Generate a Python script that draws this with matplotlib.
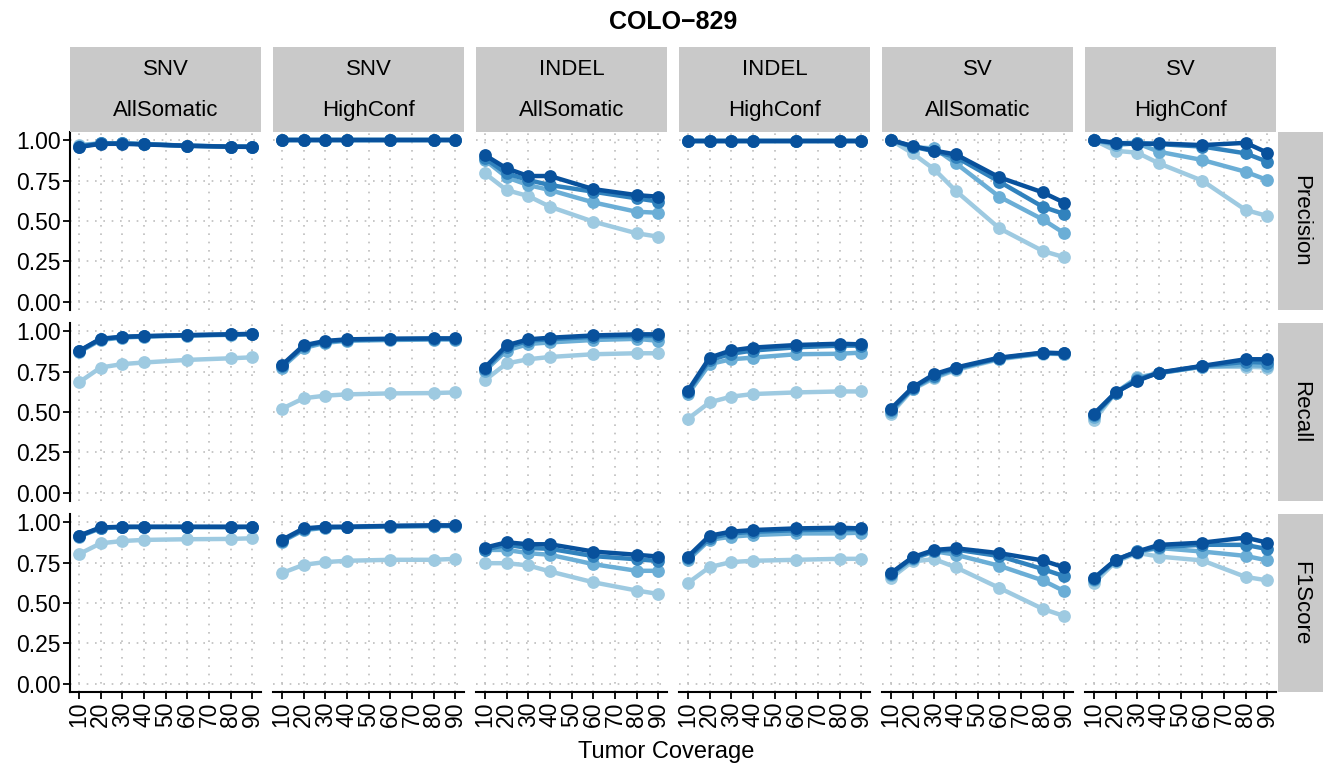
import matplotlib
matplotlib.use("Agg")
import matplotlib.pyplot as plt

plt.rcParams['font.family'] = ['Liberation Sans', 'DejaVu Sans']

coverage = [10, 20, 30, 40, 60, 80, 90]
x_ticks = [10, 20, 30, 40, 50, 60, 70, 80, 90]
y_ticks = [0.0, 0.25, 0.5, 0.75, 1.0]
metrics = ["Precision", "Recall", "F1Score"]
variant_types = ["SNV", "SNV", "INDEL", "INDEL", "SV", "SV"]
call_sets = ["AllSomatic", "HighConf", "AllSomatic", "HighConf", "AllSomatic", "HighConf"]
# light -> dark, drawn in this order so the darkest ends up on top
shades = ["#9ECAE1", "#6BAED6", "#3182BD", "#08519C"]

# each block: 4 series (light -> dark), one value per coverage
precision_snv_all = [[0.97, 0.98, 0.98, 0.975, 0.965, 0.96, 0.957],
                     [0.965, 0.98, 0.98, 0.975, 0.965, 0.96, 0.96],
                     [0.96, 0.98, 0.98, 0.975, 0.965, 0.96, 0.96],
                     [0.957, 0.977, 0.977, 0.973, 0.965, 0.959, 0.958]]
precision_snv_hc = [[0.998] * 7, [0.998] * 7, [0.998] * 7, [0.998] * 7]
precision_indel_all = [[0.794, 0.691, 0.654, 0.588, 0.496, 0.424, 0.403],
                       [0.877, 0.77, 0.722, 0.691, 0.615, 0.557, 0.551],
                       [0.887, 0.794, 0.753, 0.722, 0.681, 0.64, 0.62],
                       [0.907, 0.825, 0.778, 0.778, 0.697, 0.66, 0.65]]
precision_indel_hc = [[0.995] * 7, [0.995] * 7, [0.995] * 7, [0.995] * 7]
precision_sv_all = [[1.0, 0.918, 0.819, 0.685, 0.455, 0.315, 0.276],
                    [1.0, 0.955, 0.949, 0.856, 0.65, 0.51, 0.424],
                    [1.0, 0.96, 0.93, 0.895, 0.743, 0.588, 0.543],
                    [1.0, 0.963, 0.935, 0.911, 0.77, 0.677, 0.613]]
precision_sv_hc = [[1.0, 0.934, 0.922, 0.856, 0.749, 0.568, 0.531],
                   [1.0, 0.97, 0.98, 0.928, 0.877, 0.804, 0.753],
                   [1.0, 0.98, 0.983, 0.975, 0.96, 0.918, 0.866],
                   [1.0, 0.983, 0.975, 0.979, 0.969, 0.983, 0.922]]

recall_snv_all = [[0.683, 0.775, 0.796, 0.806, 0.822, 0.832, 0.838],
                  [0.87, 0.945, 0.96, 0.966, 0.972, 0.977, 0.98],
                  [0.875, 0.95, 0.963, 0.968, 0.974, 0.979, 0.982],
                  [0.877, 0.953, 0.965, 0.969, 0.975, 0.98, 0.983]]
recall_snv_hc = [[0.52, 0.585, 0.601, 0.609, 0.615, 0.617, 0.621],
                 [0.775, 0.895, 0.928, 0.94, 0.945, 0.948, 0.948],
                 [0.785, 0.905, 0.935, 0.945, 0.95, 0.952, 0.952],
                 [0.79, 0.912, 0.939, 0.949, 0.953, 0.955, 0.955]]
recall_indel_all = [[0.697, 0.8, 0.826, 0.84, 0.857, 0.863, 0.863],
                    [0.755, 0.88, 0.92, 0.93, 0.945, 0.952, 0.94],
                    [0.765, 0.9, 0.94, 0.95, 0.965, 0.97, 0.97],
                    [0.775, 0.912, 0.949, 0.959, 0.973, 0.98, 0.98]]
recall_indel_hc = [[0.458, 0.56, 0.595, 0.611, 0.621, 0.627, 0.627],
                   [0.61, 0.796, 0.826, 0.836, 0.857, 0.86, 0.867],
                   [0.625, 0.82, 0.86, 0.88, 0.9, 0.91, 0.91],
                   [0.632, 0.836, 0.881, 0.898, 0.914, 0.922, 0.918]]
recall_sv_all = [[0.49, 0.64, 0.71, 0.76, 0.826, 0.86, 0.858],
                 [0.5, 0.645, 0.715, 0.765, 0.83, 0.862, 0.86],
                 [0.51, 0.648, 0.725, 0.77, 0.832, 0.865, 0.862],
                 [0.52, 0.652, 0.734, 0.775, 0.836, 0.867, 0.863]]
recall_sv_hc = [[0.448, 0.62, 0.714, 0.74, 0.78, 0.78, 0.775],
                [0.47, 0.62, 0.708, 0.74, 0.78, 0.79, 0.785],
                [0.48, 0.62, 0.7, 0.742, 0.783, 0.81, 0.805],
                [0.489, 0.621, 0.693, 0.744, 0.785, 0.826, 0.826]]

f1_snv_all = [[0.802, 0.869, 0.883, 0.89, 0.894, 0.896, 0.9],
              [0.91, 0.962, 0.968, 0.969, 0.969, 0.968, 0.969],
              [0.913, 0.965, 0.97, 0.97, 0.97, 0.97, 0.97],
              [0.916, 0.967, 0.971, 0.971, 0.971, 0.971, 0.971]]
f1_snv_hc = [[0.685, 0.736, 0.753, 0.761, 0.767, 0.767, 0.773],
             [0.88, 0.95, 0.965, 0.968, 0.972, 0.975, 0.975],
             [0.885, 0.955, 0.968, 0.97, 0.975, 0.977, 0.977],
             [0.89, 0.961, 0.971, 0.971, 0.977, 0.98, 0.98]]
f1_indel_all = [[0.746, 0.746, 0.732, 0.695, 0.628, 0.577, 0.556],
                [0.828, 0.828, 0.808, 0.798, 0.74, 0.699, 0.699],
                [0.83, 0.86, 0.84, 0.835, 0.79, 0.77, 0.76],
                [0.842, 0.875, 0.863, 0.863, 0.818, 0.798, 0.787]]
f1_indel_hc = [[0.624, 0.722, 0.753, 0.761, 0.767, 0.773, 0.773],
               [0.765, 0.89, 0.91, 0.92, 0.93, 0.93, 0.935],
               [0.78, 0.9, 0.93, 0.94, 0.95, 0.955, 0.955],
               [0.787, 0.916, 0.941, 0.951, 0.961, 0.965, 0.961]]
f1_sv_all = [[0.654, 0.757, 0.771, 0.72, 0.593, 0.464, 0.419],
             [0.67, 0.77, 0.82, 0.798, 0.73, 0.64, 0.573],
             [0.68, 0.78, 0.82, 0.83, 0.79, 0.71, 0.665],
             [0.685, 0.783, 0.828, 0.838, 0.808, 0.763, 0.72]]
f1_sv_hc = [[0.624, 0.755, 0.81, 0.787, 0.763, 0.661, 0.64],
            [0.645, 0.76, 0.815, 0.84, 0.818, 0.791, 0.763],
            [0.65, 0.765, 0.82, 0.845, 0.86, 0.859, 0.833],
            [0.654, 0.767, 0.818, 0.859, 0.873, 0.904, 0.873]]

grid = [
    [precision_snv_all, precision_snv_hc, precision_indel_all,
     precision_indel_hc, precision_sv_all, precision_sv_hc],
    [recall_snv_all, recall_snv_hc, recall_indel_all,
     recall_indel_hc, recall_sv_all, recall_sv_hc],
    [f1_snv_all, f1_snv_hc, f1_indel_all, f1_indel_hc, f1_sv_all, f1_sv_hc],
]

W, H = 1323, 768
fig = plt.figure(figsize=(W / 100, H / 100), dpi=100)

# panel layout in pixels
left0, col_step, panel_w = 70.3, 203.0, 190.7
top0, row_step, panel_h = 132.0, 191.0, 178.0
strip_top = 47.0
rstrip_left, rstrip_w = 1278.0, 45.0
strip_grey = "#C9C9C9"


def box(x, y, w, h):
    return [x / W, 1 - (y + h) / H, w / W, h / H]


for r, metric in enumerate(metrics):
    for c in range(6):
        ax = fig.add_axes(box(left0 + c * col_step, top0 + r * row_step,
                              panel_w, panel_h))
        for series, col in zip(grid[r][c], shades):
            ax.plot(coverage, series, color=col, lw=3.2, marker="o",
                    markersize=9.2, markeredgewidth=0, solid_capstyle="round")
        ax.set_xlim(6, 94)
        ax.set_ylim(-0.05, 1.05)
        ax.set_xticks(x_ticks)
        ax.set_yticks(y_ticks)
        ax.grid(True, color="#BDBDBD", lw=1.2, linestyle=(0, (1, 4)))
        ax.set_axisbelow(True)
        for s in ax.spines.values():
            s.set_visible(False)
        ax.tick_params(length=5, width=1.3, color="black", labelsize=16.5,
                       pad=2)
        if c == 0:
            ax.spines["left"].set_visible(True)
            ax.spines["left"].set_linewidth(1.5)
            ax.set_yticklabels([f"{v:.2f}" for v in y_ticks])
        else:
            ax.tick_params(axis="y", length=0, labelleft=False)
        if r == len(metrics) - 1:
            ax.spines["bottom"].set_visible(True)
            ax.spines["bottom"].set_linewidth(1.5)
            ax.set_xticklabels([str(v) for v in x_ticks], rotation=90)
        else:
            ax.tick_params(axis="x", length=0, labelbottom=False)

    # row strip on the right
    sax = fig.add_axes(box(rstrip_left, top0 + r * row_step, rstrip_w, panel_h))
    sax.set_facecolor(strip_grey)
    sax.set_xticks([])
    sax.set_yticks([])
    for s in sax.spines.values():
        s.set_visible(False)
    sax.text(0.5, 0.5, metric, rotation=270, ha="center", va="center",
             fontsize=16, transform=sax.transAxes)

# column strips on top
for c in range(6):
    sax = fig.add_axes(box(left0 + c * col_step, strip_top, panel_w,
                           top0 - strip_top))
    sax.set_facecolor(strip_grey)
    sax.set_xticks([])
    sax.set_yticks([])
    for s in sax.spines.values():
        s.set_visible(False)
    sax.text(0.5, 0.74, variant_types[c], ha="center", va="center",
             fontsize=16, transform=sax.transAxes)
    sax.text(0.5, 0.25, call_sets[c], ha="center", va="center",
             fontsize=16, transform=sax.transAxes)

fig.text(673 / W, 1 - 22 / H, "COLO\u2212829", ha="center", va="center",
         fontsize=18, fontweight="bold")
fig.text(666 / W, 1 - 752 / H, "Tumor Coverage", ha="center", va="center",
         fontsize=17)

fig.savefig("out.png", dpi=100)
